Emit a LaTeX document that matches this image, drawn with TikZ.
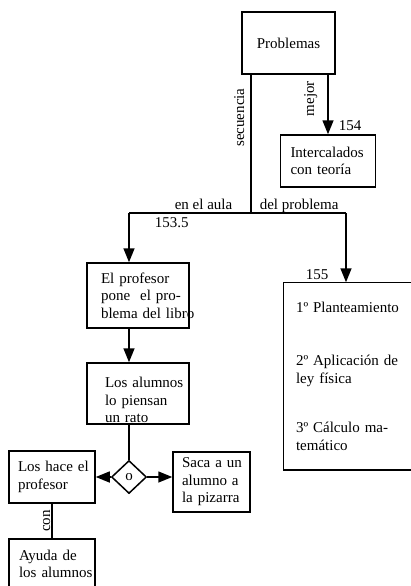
\documentclass[tikz,border=0pt]{standalone}
\usepackage{fontspec}
\setmainfont{Liberation Serif}
\usetikzlibrary{arrows.meta,shapes.geometric}

\begin{document}
\begin{tikzpicture}[x=1pt,y=-1pt,
        font=\fontsize{15}{17.5}\selectfont,
        line width=1.5pt,
        box/.style={draw, align=left, inner ysep=0pt},
        flecha/.style={-{Triangle[width=11pt,length=14pt]}},
        rot/.style={rotate=90, anchor=south, inner sep=#1},
        lbl/.style={inner sep=0pt}]
                \useasboundingbox (0,0) rectangle (411,586);
                \clip (0,0) rectangle (411,586);

                \node[box, align=center, minimum width=93pt, minimum height=62pt] (prob) at (288.5,43) {Problemas};
                \node[box, text width=75pt, inner xsep=10pt, minimum height=52pt] (inter) at (328,161) {\mbox{Intercalados}\\con teoría};
                \node[box, text width=74pt, inner xsep=14pt, minimum height=65pt] (prof) at (138,295.5) {El profesor\\\mbox{pone\ \ el pro-}\\\mbox{blema del libro}};
                \node[box, text width=66pt, inner xsep=18pt, minimum height=61pt] (alum) at (138,393.5) {\rule{0pt}{24pt}\mbox{Los alumnos}\\lo piensan\\un rato};
                \node[draw, diamond, aspect=1, minimum width=35pt, minimum height=33pt, inner sep=0pt] (o) at (129,477) {o};
                \node[box, text width=68pt, inner xsep=9pt, minimum height=52pt] (hace) at (52,477) {\mbox{Los hace el}\\profesor};
                \node[box, text width=59pt, inner xsep=9pt, minimum height=60pt] (saca) at (211.5,482) {\mbox{Saca a un}\\\mbox{alumno a}\\\mbox{la pizarra}};
                \node[box, text width=66pt, inner xsep=10pt, minimum height=50pt] (ayuda) at (52,564) {Ayuda de\\\mbox{los alumnos}};
                \node[align=left, text width=140pt, inner xsep=12pt, inner ysep=0pt, minimum height=186pt] (pasos) at (366,376) {1º Planteamiento\\[36pt]2º Aplicación de\\ley física\\[32pt]3º Cálculo ma-\\temático};
                \draw (pasos.north east) -- (pasos.north west) -- (pasos.south west) -- (pasos.south east);

                \coordinate (j) at (251,213);
                \coordinate (jl) at (129,213);
                \coordinate (jr) at (346,213);

                \draw (prob.south -| j) -- node[rot=6pt, pos=0.31] (secu) {secuencia} (j);
                \draw (jl) -- (jr);
                \draw[flecha] (jl) -- (prof.north -| jl);
                \draw[flecha] (jr) -- (pasos.north -| jr);
                \draw[flecha] (inter.north |- prob.south) -- node[rot=10pt, pos=0.4] (mej) {mejor} (inter.north);
                \draw[flecha] (prof.south -| jl) -- (alum.north -| jl);
                \draw (alum.south -| o.north) -- (o.north);
                \draw[flecha] (o.west) -- (hace.east |- o.west);
                \draw[flecha] (o.east) -- (saca.west |- o.east);
                \draw (hace.south) -- node[rot=1pt] (con) {con} (ayuda.north);

                \node[lbl, anchor=base east] (aula) at (233,209) {en el aula};
                \node[lbl, anchor=base west] (delp) at (259,209) {del problema};
                \node[lbl, anchor=base west] (n1535) at (154,227) {153.5};
                \node[lbl, anchor=base west] (n154) at (338,130) {154};
                \node[lbl, anchor=base west] (n155) at (305,279) {155};
\end{tikzpicture}
\end{document}
